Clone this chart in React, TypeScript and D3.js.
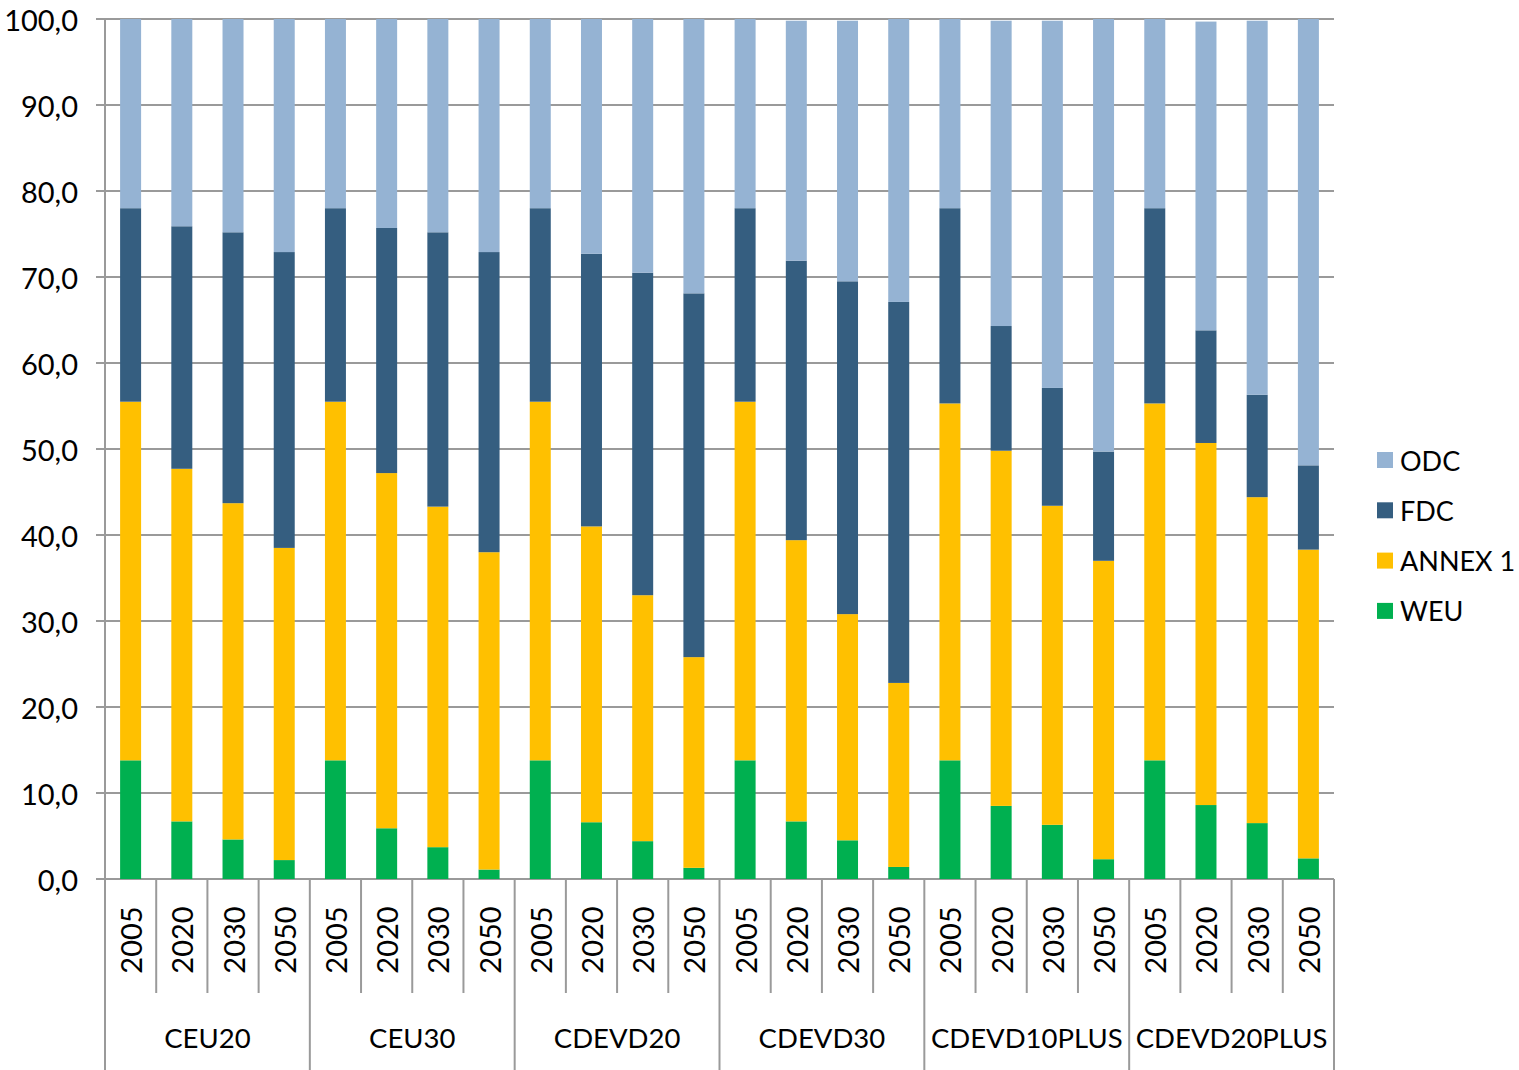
import React from "react";
import * as d3 from "d3";

const scenarios = ["CEU20", "CEU30", "CDEVD20", "CDEVD30", "CDEVD10PLUS", "CDEVD20PLUS"];
const years = ["2005", "2020", "2030", "2050"];
const seriesNames = ["WEU", "ANNEX 1", "FDC", "ODC"];
const seriesColors = ["#00B050", "#FFC000", "#355E80", "#95B3D3"];
const yTicks = [0, 10, 20, 30, 40, 50, 60, 70, 80, 90, 100];

// segment values (per scenario, per year)
const weu = [
  13.8, 6.7, 4.6, 2.2,
  13.8, 5.9, 3.7, 1.1,
  13.8, 6.6, 4.4, 1.3,
  13.8, 6.7, 4.5, 1.4,
  13.8, 8.5, 6.3, 2.3,
  13.8, 8.6, 6.5, 2.4,
];
const annex1 = [
  41.7, 41.0, 39.1, 36.3,
  41.7, 41.3, 39.6, 36.9,
  41.7, 34.4, 28.6, 24.5,
  41.7, 32.7, 26.3, 21.4,
  41.5, 41.3, 37.1, 34.7,
  41.5, 42.1, 37.9, 35.9,
];
const fdc = [
  22.5, 28.2, 31.5, 34.4,
  22.5, 28.5, 31.9, 34.9,
  22.5, 31.7, 37.5, 42.3,
  22.5, 32.5, 38.7, 44.3,
  22.7, 14.5, 13.7, 12.7,
  22.7, 13.1, 11.9, 9.8,
];
const odc = [
  22.0, 24.1, 24.8, 27.1,
  22.0, 24.3, 24.8, 27.1,
  22.0, 27.3, 29.5, 31.9,
  22.0, 27.9, 30.3, 32.9,
  22.0, 35.5, 42.7, 50.3,
  22.0, 35.9, 43.5, 51.9,
];

export default function App() {
  const W = 1519, H = 1070;
  const left = 105, right = 1334, top = 19, bottom = 879;
  const n = scenarios.length * years.length;
  const rows = d3.range(n).map((i) => ({
    i,
    WEU: weu[i],
    "ANNEX 1": annex1[i],
    FDC: fdc[i],
    ODC: odc[i],
  }));
  const x = d3.scaleBand<number>().domain(d3.range(n)).range([left, right]).padding(0);
  const y = d3.scaleLinear().domain([0, 100]).range([bottom, top]);
  const stack = d3.stack<any>().keys(seriesNames)(rows);
  const bw = x.bandwidth() * 0.41;
  const font = "'Century Gothic', Lato, 'Open Sans', sans-serif";
  const grid = "#9a9a9a";

  return (
    <svg width={W} height={H} style={{ position: "absolute", left: 0, top: 0 }} fontFamily={font}>
      <rect width={W} height={H} fill="#fff" />
      {yTicks.map((t) => (
        <g key={t}>
          <line x1={96} x2={right} y1={y(t)} y2={y(t)} stroke={grid} strokeWidth={2} />
          <text x={78} y={y(t)} textAnchor="end" dominantBaseline="central" fontSize={29} fill="#000">
            {d3.format(".1f")(t).replace(".", ",")}
          </text>
        </g>
      ))}
      {stack.map((s, si) => (
        <g key={s.key} fill={seriesColors[si]}>
          {s.map((d, i) => (
            <rect
              key={i}
              x={(x(i) as number) + (x.bandwidth() - bw) / 2}
              y={y(d[1])}
              width={bw}
              height={y(d[0]) - y(d[1])}
            />
          ))}
        </g>
      ))}
      <line x1={left} x2={left} y1={top} y2={H} stroke={grid} strokeWidth={2} />
      {d3.range(n + 1).map((i) => {
        const xx = i < n ? (x(i) as number) : right;
        const major = i % years.length === 0;
        return (
          <line key={i} x1={xx} x2={xx} y1={bottom} y2={major ? H : 993} stroke={grid} strokeWidth={2} />
        );
      })}
      {d3.range(n).map((i) => {
        const cx = (x(i) as number) + x.bandwidth() / 2;
        const cy = 940;
        return (
          <text
            key={i}
            transform={`translate(${cx},${cy}) rotate(-90)`}
            textAnchor="middle"
            dominantBaseline="central"
            fontSize={29}
            fill="#000"
          >
            {years[i % years.length]}
          </text>
        );
      })}
      {scenarios.map((s, g) => {
        const x0 = x(g * years.length) as number;
        const cx = x0 + (x.bandwidth() * years.length) / 2;
        return (
          <text key={s} x={cx} y={1037} textAnchor="middle" dominantBaseline="central" fontSize={27.5} fill="#000">
            {s}
          </text>
        );
      })}
      {[...seriesNames].reverse().map((name, k) => {
        const si = seriesNames.length - 1 - k;
        const cy = 460 + k * 50.3;
        return (
          <g key={name}>
            <rect x={1377} y={cy - 8} width={16} height={16} fill={seriesColors[si]} />
            <text x={1400} y={cy} dominantBaseline="central" fontSize={27} fill="#000">
              {name}
            </text>
          </g>
        );
      })}
    </svg>
  );
}
